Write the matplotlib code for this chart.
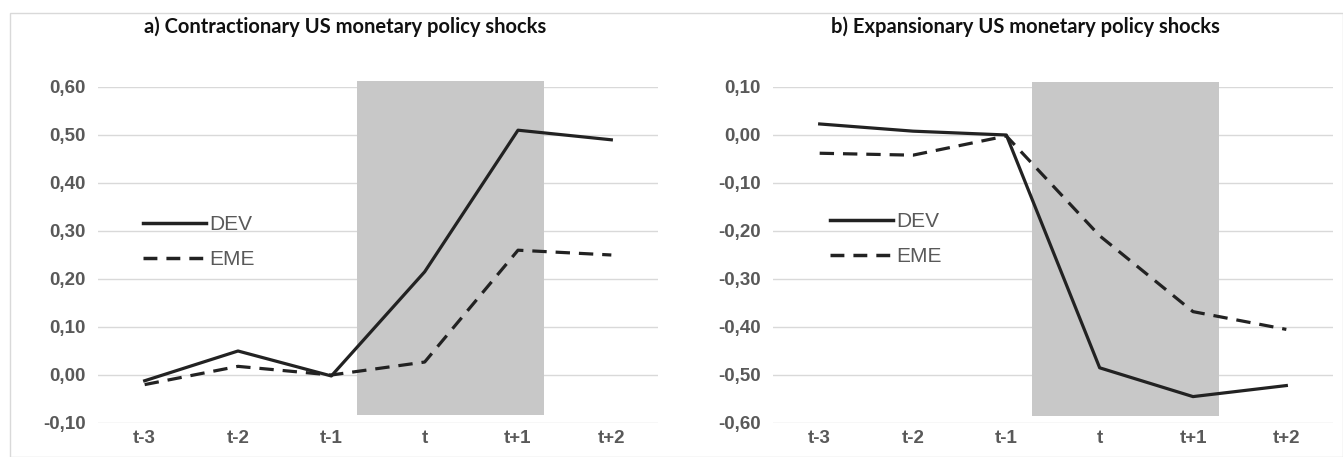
import matplotlib.pyplot as plt
from matplotlib.patches import Rectangle
from matplotlib.lines import Line2D

periodos = ['t-3', 't-2', 't-1', 't', 't+1', 't+2']

# a) contractionary shocks
dev_contr = [-0.012, 0.050, -0.002, 0.215, 0.510, 0.490]
eme_contr = [-0.020, 0.018, 0.000, 0.027, 0.260, 0.250]

# b) expansionary shocks
dev_expan = [0.023, 0.008, 0.000, -0.485, -0.545, -0.522]
eme_expan = [-0.038, -0.042, -0.002, -0.210, -0.368, -0.405]

titulos = ['a) Contractionary US monetary policy shocks',
           'b) Expansionary US monetary policy shocks']

gris_texto = '#595959'
fuente_ejes = ['Liberation Sans Narrow', 'Liberation Sans', 'DejaVu Sans']
fuente_titulo = ['Lato', 'DejaVu Sans']
guiones = (4.5, 2.8)

fig = plt.figure(figsize=(13.43, 4.57), dpi=100)
W, H = 1343, 457

# light border around the chart
fig.patches.append(Rectangle((10 / W, 0), 1 - 10 / W, 1 - 13 / H, transform=fig.transFigure,
                             fill=False, edgecolor='#d9d9d9', linewidth=1.0))


def panel(x0, x1, dev, eme, ylim, titulo, sombra, leyenda_pos, titulo_x):
    ax = fig.add_axes([x0 / W, 1 - 423 / H, (x1 - x0) / W, (423 - 87) / H])
    x = range(len(periodos))
    ax.fill_between([2.28, 4.28], sombra[0], sombra[1], color='#c8c8c8',
                    linewidth=0, zorder=1, clip_on=False)
    ax.plot(x, dev, color='#222222', linewidth=2.3, zorder=3)
    ax.plot(x, eme, color='#222222', linewidth=2.3, dashes=guiones, zorder=3)
    ax.set_xlim(-0.5, 5.5)
    ax.set_ylim(*ylim)
    ticks = [round(ylim[0] + 0.1 * i, 2) for i in range(8)]
    ax.set_yticks(ticks)
    ax.set_yticklabels([f'{t:.2f}'.replace('.', ',') for t in ticks])
    ax.set_xticks(list(x))
    ax.set_xticklabels(periodos)
    ax.grid(axis='y', color='#d9d9d9', linewidth=1.0)
    ax.set_axisbelow(True)
    for s in ax.spines.values():
        s.set_visible(False)
    ax.tick_params(length=0, colors=gris_texto)
    ax.tick_params(axis='x', pad=5)
    ax.tick_params(axis='y', pad=9)
    for lab in ax.get_xticklabels() + ax.get_yticklabels():
        lab.set_fontfamily(fuente_ejes)
        lab.set_fontweight('bold')
        lab.set_fontsize(13.5)
        lab.set_color(gris_texto)
    fig.text(titulo_x / W, 1 - 27 / H, titulo, ha='center', va='center',
             fontsize=14.5, fontweight='bold', family=fuente_titulo, color='#111111')
    handles = [Line2D([], [], color='#222222', linewidth=2.5),
               Line2D([], [], color='#222222', linewidth=2.5, dashes=(4, 2.6))]
    leg = ax.legend(handles, ['DEV', 'EME'], loc='upper left',
                    bbox_to_anchor=(leyenda_pos[0] / W, 1 - leyenda_pos[1] / H),
                    bbox_transform=fig.transFigure, frameon=False, handlelength=3.0,
                    handletextpad=0.15, labelspacing=0.75, borderpad=0,
                    prop={'family': fuente_ejes, 'size': 15})
    for t in leg.get_texts():
        t.set_color(gris_texto)
    return ax


panel(98, 658, dev_contr, eme_contr, (-0.1, 0.6), titulos[0], (-0.083, 0.612), (133, 205), 345)
panel(773, 1333, dev_expan, eme_expan, (-0.6, 0.1), titulos[1], (-0.585, 0.11), (820, 202), 1025)

fig.savefig('out.png', dpi=100)
